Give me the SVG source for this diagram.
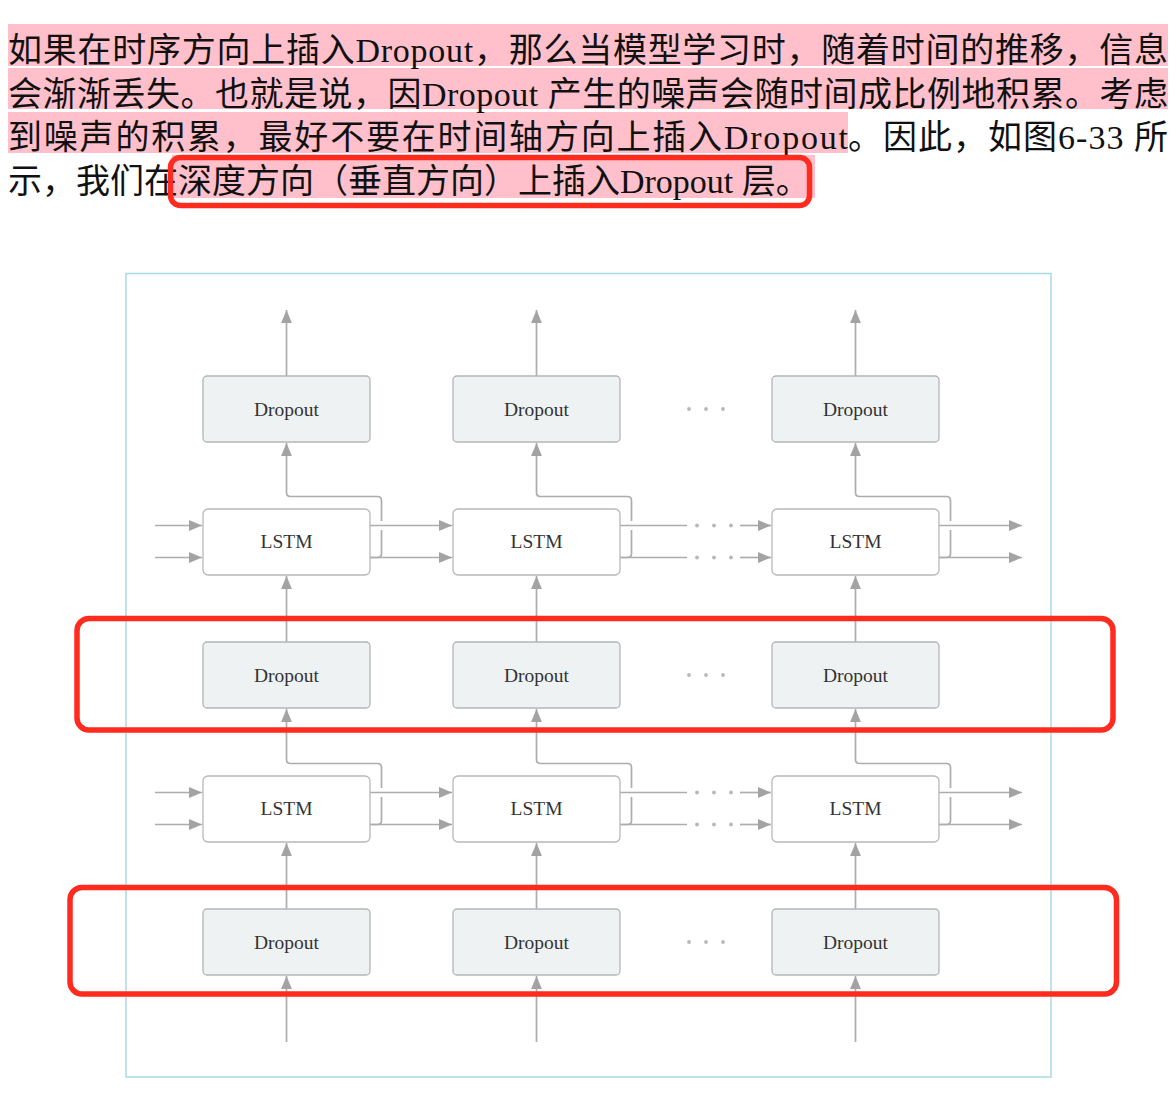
<svg xmlns="http://www.w3.org/2000/svg" width="1176" height="1100" viewBox="0 0 1176 1100">
<defs>
<marker id="ah" viewBox="0 0 12 10" markerWidth="13" markerHeight="11" refX="12" refY="5" orient="auto" markerUnits="userSpaceOnUse">
<path d="M0,0 L12,5 L0,10 z" fill="#a3a3a3"/>
</marker>
<style>
.para{font-family:"Liberation Serif","Noto Sans CJK SC",serif;font-size:34px;fill:#111}
.hl{fill:#ffc0cb}
.red{fill:none;stroke:#ff2b1f;stroke-width:5.5}
.frame{fill:none;stroke:#a6dbe2;stroke-width:1.5}
.drop{fill:#eef2f2;stroke:#b2b6b8;stroke-width:1.3}
.lstm{fill:#ffffff;stroke:#b8b8b8;stroke-width:1.3}
.lbl{font-family:"Liberation Serif",serif;font-size:19.5px;fill:#333;text-anchor:middle}
.ln{fill:none;stroke:#adadad;stroke-width:1.7}
.arr{fill:none;stroke:#adadad;stroke-width:1.7;marker-end:url(#ah)}
.halo{fill:#ffffff}
.dot{fill:#b8b8b8}
</style>
</defs>
<rect width="1176" height="1100" fill="#ffffff"/>

<g id="paragraph">
<rect class="hl" x="8" y="24" width="1160" height="42"/>
<rect class="hl" x="8" y="68" width="1160" height="41"/>
<rect class="hl" x="8" y="112" width="840" height="41"/>
<rect class="hl" x="172" y="155" width="643" height="43"/>
<text class="para" x="8" y="62" textLength="1160" lengthAdjust="spacing">如果在时序方向上插入Dropout，那么当模型学习时，随着时间的推移，信息</text>
<text class="para" x="8" y="106" textLength="1160" lengthAdjust="spacing">会渐渐丢失。也就是说，因Dropout 产生的噪声会随时间成比例地积累。考虑</text>
<text class="para" x="8" y="149" textLength="840" lengthAdjust="spacing">到噪声的积累，最好不要在时间轴方向上插入Dropout</text>
<text class="para" x="848" y="149" textLength="320" lengthAdjust="spacing">。因此，如图6-33 所</text>
<text class="para" x="8" y="193">示，我们在深度方向（垂直方向）上插入Dropout 层。</text>
<rect class="red" x="170.5" y="157.5" width="639" height="48" rx="10"/>
</g>

<rect id="frame" class="frame" x="126" y="273.5" width="925" height="803.5"/>

<g id="connectors">
<path class="arr" d="M286.5,376 L286.5,310"/>
<path class="arr" d="M536.5,376 L536.5,310"/>
<path class="arr" d="M855.5,376 L855.5,310"/>
<path class="arr" d="M286.5,642 L286.5,576"/>
<path class="arr" d="M536.5,642 L536.5,576"/>
<path class="arr" d="M855.5,642 L855.5,576"/>
<path class="arr" d="M286.5,909 L286.5,843"/>
<path class="arr" d="M536.5,909 L536.5,843"/>
<path class="arr" d="M855.5,909 L855.5,843"/>
<path class="arr" d="M286.5,1042 L286.5,976"/>
<path class="arr" d="M536.5,1042 L536.5,976"/>
<path class="arr" d="M855.5,1042 L855.5,976"/>
<path class="arr" d="M370,557.5 L377.5,557.5 Q381.5,557.5 381.5,553.5 L381.5,500.5 Q381.5,496.5 377.5,496.5 L290.5,496.5 Q286.5,496.5 286.5,492.5 L286.5,443"/>
<path class="arr" d="M620,557.5 L627.5,557.5 Q631.5,557.5 631.5,553.5 L631.5,500.5 Q631.5,496.5 627.5,496.5 L540.5,496.5 Q536.5,496.5 536.5,492.5 L536.5,443"/>
<path class="arr" d="M939,557.5 L946.5,557.5 Q950.5,557.5 950.5,553.5 L950.5,500.5 Q950.5,496.5 946.5,496.5 L859.5,496.5 Q855.5,496.5 855.5,492.5 L855.5,443"/>
<path class="arr" d="M370,824.5 L377.5,824.5 Q381.5,824.5 381.5,820.5 L381.5,767.5 Q381.5,763.5 377.5,763.5 L290.5,763.5 Q286.5,763.5 286.5,759.5 L286.5,709"/>
<path class="arr" d="M620,824.5 L627.5,824.5 Q631.5,824.5 631.5,820.5 L631.5,767.5 Q631.5,763.5 627.5,763.5 L540.5,763.5 Q536.5,763.5 536.5,759.5 L536.5,709"/>
<path class="arr" d="M939,824.5 L946.5,824.5 Q950.5,824.5 950.5,820.5 L950.5,767.5 Q950.5,763.5 946.5,763.5 L859.5,763.5 Q855.5,763.5 855.5,759.5 L855.5,709"/>
<rect class="halo" x="378.5" y="521" width="6" height="9"/>
<rect class="halo" x="628.5" y="521" width="6" height="9"/>
<rect class="halo" x="947.5" y="521" width="6" height="9"/>
<rect class="halo" x="378.5" y="788" width="6" height="9"/>
<rect class="halo" x="628.5" y="788" width="6" height="9"/>
<rect class="halo" x="947.5" y="788" width="6" height="9"/>
<path class="arr" d="M155,525.5 L202,525.5"/>
<path class="arr" d="M155,557.5 L202,557.5"/>
<path class="arr" d="M370,525.5 L452,525.5"/>
<path class="arr" d="M370,557.5 L452,557.5"/>
<path class="ln" d="M620,525.5 L687,525.5"/>
<path class="ln" d="M620,557.5 L687,557.5"/>
<path class="arr" d="M740,525.5 L771,525.5"/>
<path class="arr" d="M740,557.5 L771,557.5"/>
<path class="arr" d="M939,525.5 L1022,525.5"/>
<path class="arr" d="M939,557.5 L1022,557.5"/>
<circle class="dot" cx="697" cy="525.5" r="1.9"/><circle class="dot" cx="714" cy="525.5" r="1.9"/><circle class="dot" cx="731" cy="525.5" r="1.9"/>
<circle class="dot" cx="697" cy="557.5" r="1.9"/><circle class="dot" cx="714" cy="557.5" r="1.9"/><circle class="dot" cx="731" cy="557.5" r="1.9"/>
<path class="arr" d="M155,792.5 L202,792.5"/>
<path class="arr" d="M155,824.5 L202,824.5"/>
<path class="arr" d="M370,792.5 L452,792.5"/>
<path class="arr" d="M370,824.5 L452,824.5"/>
<path class="ln" d="M620,792.5 L687,792.5"/>
<path class="ln" d="M620,824.5 L687,824.5"/>
<path class="arr" d="M740,792.5 L771,792.5"/>
<path class="arr" d="M740,824.5 L771,824.5"/>
<path class="arr" d="M939,792.5 L1022,792.5"/>
<path class="arr" d="M939,824.5 L1022,824.5"/>
<circle class="dot" cx="697" cy="792.5" r="1.9"/><circle class="dot" cx="714" cy="792.5" r="1.9"/><circle class="dot" cx="731" cy="792.5" r="1.9"/>
<circle class="dot" cx="697" cy="824.5" r="1.9"/><circle class="dot" cx="714" cy="824.5" r="1.9"/><circle class="dot" cx="731" cy="824.5" r="1.9"/>
<circle class="dot" cx="689" cy="409" r="1.9"/><circle class="dot" cx="706" cy="409" r="1.9"/><circle class="dot" cx="723" cy="409" r="1.9"/>
<circle class="dot" cx="689" cy="675" r="1.9"/><circle class="dot" cx="706" cy="675" r="1.9"/><circle class="dot" cx="723" cy="675" r="1.9"/>
<circle class="dot" cx="689" cy="942" r="1.9"/><circle class="dot" cx="706" cy="942" r="1.9"/><circle class="dot" cx="723" cy="942" r="1.9"/>
</g>

<g id="dropout-top-1"><rect class="drop" x="203" y="376" width="167" height="66" rx="4"/><text class="lbl" x="286.5" y="415.5">Dropout</text></g>
<g id="dropout-top-2"><rect class="drop" x="453" y="376" width="167" height="66" rx="4"/><text class="lbl" x="536.5" y="415.5">Dropout</text></g>
<g id="dropout-top-3"><rect class="drop" x="772" y="376" width="167" height="66" rx="4"/><text class="lbl" x="855.5" y="415.5">Dropout</text></g>

<g id="lstm-1-1"><rect class="lstm" x="203" y="509" width="167" height="66" rx="5"/><text class="lbl" x="286.5" y="548">LSTM</text></g>
<g id="lstm-1-2"><rect class="lstm" x="453" y="509" width="167" height="66" rx="5"/><text class="lbl" x="536.5" y="548">LSTM</text></g>
<g id="lstm-1-3"><rect class="lstm" x="772" y="509" width="167" height="66" rx="5"/><text class="lbl" x="855.5" y="548">LSTM</text></g>

<g id="dropout-mid-1"><rect class="drop" x="203" y="642" width="167" height="66" rx="4"/><text class="lbl" x="286.5" y="681.5">Dropout</text></g>
<g id="dropout-mid-2"><rect class="drop" x="453" y="642" width="167" height="66" rx="4"/><text class="lbl" x="536.5" y="681.5">Dropout</text></g>
<g id="dropout-mid-3"><rect class="drop" x="772" y="642" width="167" height="66" rx="4"/><text class="lbl" x="855.5" y="681.5">Dropout</text></g>

<g id="lstm-2-1"><rect class="lstm" x="203" y="776" width="167" height="66" rx="5"/><text class="lbl" x="286.5" y="815">LSTM</text></g>
<g id="lstm-2-2"><rect class="lstm" x="453" y="776" width="167" height="66" rx="5"/><text class="lbl" x="536.5" y="815">LSTM</text></g>
<g id="lstm-2-3"><rect class="lstm" x="772" y="776" width="167" height="66" rx="5"/><text class="lbl" x="855.5" y="815">LSTM</text></g>

<g id="dropout-bot-1"><rect class="drop" x="203" y="909" width="167" height="66" rx="4"/><text class="lbl" x="286.5" y="948.5">Dropout</text></g>
<g id="dropout-bot-2"><rect class="drop" x="453" y="909" width="167" height="66" rx="4"/><text class="lbl" x="536.5" y="948.5">Dropout</text></g>
<g id="dropout-bot-3"><rect class="drop" x="772" y="909" width="167" height="66" rx="4"/><text class="lbl" x="855.5" y="948.5">Dropout</text></g>

<g id="highlights">
<rect class="red" x="77" y="618.5" width="1036" height="111.5" rx="12"/>
<rect class="red" x="70" y="887.5" width="1046.5" height="106.5" rx="12"/>
</g>
</svg>
